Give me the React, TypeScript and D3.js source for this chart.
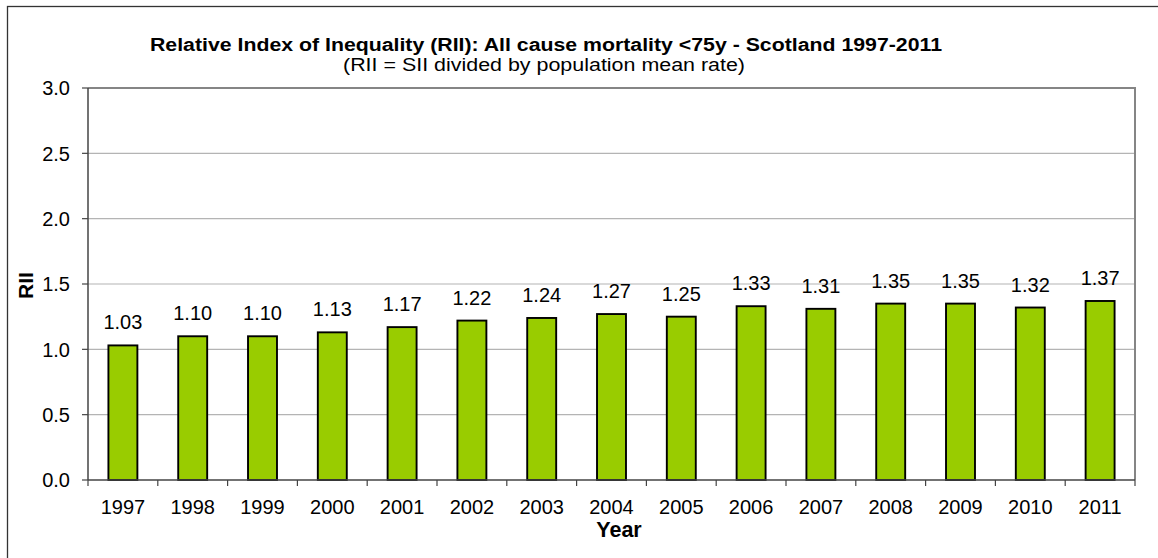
import React from "react";
import * as d3 from "d3";

const years = ["1997", "1998", "1999", "2000", "2001", "2002", "2003", "2004", "2005", "2006", "2007", "2008", "2009", "2010", "2011"];
const rii = [1.03, 1.10, 1.10, 1.13, 1.17, 1.22, 1.24, 1.27, 1.25, 1.33, 1.31, 1.35, 1.35, 1.32, 1.37];
const yTicks = [0, 0.5, 1.0, 1.5, 2.0, 2.5, 3.0];

const W = 1158;
const H = 558;
const plot = { left: 88, right: 1135, top: 88, bottom: 480 };
const font = "Arial, 'Liberation Sans', sans-serif";

export default function App() {
  const x = d3.scaleBand<string>().domain(years).range([plot.left, plot.right]).padding(0);
  const y = d3.scaleLinear().domain([0, 3]).range([plot.bottom, plot.top]);
  const bw = x.bandwidth() * 0.415;
  const fmt = d3.format(".2f");
  const yFmt = d3.format(".1f");

  return (
    <svg
      width={W}
      height={H}
      style={{ position: "absolute", left: 0, top: 0, display: "block", background: "#fff" }}
    >
      {/* chart frame */}
      <rect x={7.5} y={6.5} width={1300} height={700} fill="#fff" stroke="#333" strokeWidth={1.3} />

      {/* gridlines */}
      {yTicks.filter((t) => t > 0 && t < 3).map((t) => (
        <line key={t} x1={plot.left} x2={plot.right} y1={y(t)} y2={y(t)} stroke="#b4b4b4" strokeWidth={1.2} />
      ))}

      {/* plot area border (top & right) */}
      <path
        d={`M${plot.left},${plot.top}H${plot.right}V${plot.bottom}`}
        fill="none"
        stroke="#858585"
        strokeWidth={2}
      />

      {/* bars */}
      {years.map((yr, i) => {
        const cx = (x(yr) as number) + x.bandwidth() / 2;
        return (
          <g key={yr}>
            <rect
              x={cx - bw / 2}
              y={y(rii[i])}
              width={bw}
              height={plot.bottom - y(rii[i])}
              fill="#99CC00"
              stroke="#000"
              strokeWidth={1.9}
            />
            <text
              x={cx}
              y={y(rii[i]) - 16}
              textAnchor="middle"
              fontFamily={font}
              fontSize={20}
              fill="#000"
            >
              {fmt(rii[i])}
            </text>
          </g>
        );
      })}

      {/* y axis */}
      <line x1={plot.left} x2={plot.left} y1={plot.top} y2={plot.bottom} stroke="#444" strokeWidth={1.5} />
      {yTicks.map((t) => (
        <g key={t}>
          <line x1={plot.left - 6} x2={plot.left} y1={y(t)} y2={y(t)} stroke="#444" strokeWidth={1.2} />
          <text
            x={70}
            y={y(t)}
            dy="0.36em"
            textAnchor="end"
            fontFamily={font}
            fontSize={20}
            fill="#000"
          >
            {yFmt(t)}
          </text>
        </g>
      ))}

      {/* x axis */}
      <line x1={plot.left} x2={plot.right} y1={plot.bottom} y2={plot.bottom} stroke="#444" strokeWidth={1.5} />
      {years.map((yr) => (
        <line
          key={"t" + yr}
          x1={x(yr) as number}
          x2={x(yr) as number}
          y1={plot.bottom}
          y2={plot.bottom + 6}
          stroke="#444"
          strokeWidth={1.2}
        />
      ))}
      <line x1={plot.right} x2={plot.right} y1={plot.bottom} y2={plot.bottom + 6} stroke="#444" strokeWidth={1.2} />
      {years.map((yr) => (
        <text
          key={"l" + yr}
          x={(x(yr) as number) + x.bandwidth() / 2}
          y={514}
          textAnchor="middle"
          fontFamily={font}
          fontSize={20}
          fill="#000"
        >
          {yr}
        </text>
      ))}

      {/* axis titles */}
      <text x={619} y={537} textAnchor="middle" fontFamily={font} fontSize={21.5} fontWeight="bold" fill="#000">
        Year
      </text>
      <text
        transform="translate(33,285.5) rotate(-90)"
        textAnchor="middle"
        fontFamily={font}
        fontSize={21}
        fontWeight="bold"
        fill="#000"
      >
        RII
      </text>

      {/* titles */}
      <text
        x={546}
        y={51}
        textAnchor="middle"
        fontFamily={font}
        fontSize={18}
        fontWeight="bold"
        fill="#000"
        textLength={792}
        lengthAdjust="spacingAndGlyphs"
      >
        Relative Index of Inequality (RII): All cause mortality &lt;75y - Scotland 1997-2011
      </text>
      <text
        x={544}
        y={71}
        textAnchor="middle"
        fontFamily={font}
        fontSize={17.5}
        fill="#000"
        textLength={402}
        lengthAdjust="spacingAndGlyphs"
      >
        (RII = SII divided by population mean rate)
      </text>
    </svg>
  );
}
